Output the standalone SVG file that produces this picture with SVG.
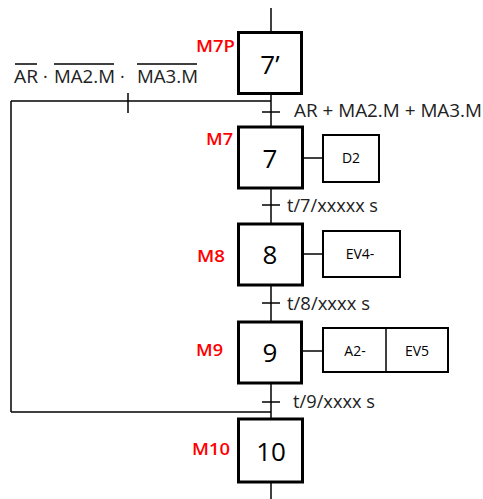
<svg xmlns="http://www.w3.org/2000/svg" width="483" height="499" viewBox="0 0 483 499">
<style>
.step{fill:#fff;stroke:#000;stroke-width:3}
.act{fill:#fff;stroke:#000;stroke-width:2}
.ln{stroke:#000;stroke-width:1.5;fill:none}
.num{font-family:"Open Sans","Liberation Sans",sans-serif;font-size:26px;fill:#000;text-anchor:middle}
.lbl{font-family:"Open Sans","Liberation Sans",sans-serif;font-size:18px;fill:#222}
.mk{font-family:"Open Sans","Liberation Sans",sans-serif;font-size:17px;fill:#ff0000;font-weight:600}
.atx{font-family:"Open Sans","Liberation Sans",sans-serif;font-size:14px;fill:#000;text-anchor:middle}
</style>
<rect width="483" height="499" fill="#fff"/>
<g id="connectors">
<line class="ln" x1="271" y1="8" x2="271" y2="32"/>
<line class="ln" x1="271" y1="93" x2="271" y2="127"/>
<line class="ln" x1="11" y1="101" x2="271" y2="101"/>
<line class="ln" x1="11" y1="101" x2="11" y2="412"/>
<line class="ln" x1="11" y1="412" x2="271" y2="412"/>
<line class="ln" x1="128" y1="93" x2="128" y2="113"/>
<line class="ln" x1="262" y1="112" x2="280" y2="112"/>
<line class="ln" x1="271" y1="188" x2="271" y2="224"/>
<line class="ln" x1="262" y1="205" x2="280" y2="205"/>
<line class="ln" x1="271" y1="285" x2="271" y2="322"/>
<line class="ln" x1="262" y1="303" x2="280" y2="303"/>
<line class="ln" x1="271" y1="383" x2="271" y2="419"/>
<line class="ln" x1="262" y1="402" x2="280" y2="402"/>
<line class="ln" x1="271" y1="482" x2="271" y2="499"/>
<line class="ln" x1="302" y1="158" x2="323" y2="158"/>
<line class="ln" x1="302" y1="254" x2="323" y2="254"/>
<line class="ln" x1="302" y1="351" x2="323" y2="351"/>
</g>
<g id="t-top">
<text class="lbl" x="15" y="83"><tspan x="14" textLength="24" lengthAdjust="spacingAndGlyphs">AR</tspan><tspan x="43">·</tspan><tspan x="54" textLength="61" lengthAdjust="spacingAndGlyphs">MA2.M</tspan><tspan x="120">·</tspan><tspan x="137" textLength="61" lengthAdjust="spacingAndGlyphs">MA3.M</tspan></text>
<line class="ln" x1="15" y1="64" x2="37" y2="64" stroke-width="1.2"/>
<line class="ln" x1="54" y1="64" x2="114" y2="64" stroke-width="1.2"/>
<line class="ln" x1="137" y1="64" x2="197" y2="64" stroke-width="1.2"/>
<text class="lbl" x="294" y="117" textLength="188" lengthAdjust="spacingAndGlyphs">AR + MA2.M + MA3.M</text>
</g>
<g id="s7p">
<rect class="step" x="238.5" y="32.5" width="63" height="61"/>
<text class="num" x="270" y="74">7’</text>
<text class="mk" x="196" y="52" textLength="39" lengthAdjust="spacingAndGlyphs">M7P</text>
</g>
<g id="s7">
<rect class="step" x="238.5" y="127" width="64" height="61"/>
<text class="num" x="270" y="168">7</text>
<text class="mk" x="206" y="145" textLength="27" lengthAdjust="spacingAndGlyphs">M7</text>
<rect class="act" x="323" y="135" width="56" height="47"/>
<text class="atx" x="351" y="163">D2</text>
</g>
<text class="lbl" x="287" y="212" textLength="91" lengthAdjust="spacingAndGlyphs">t/7/xxxxx s</text>
<g id="s8">
<rect class="step" x="238.5" y="224" width="64" height="61"/>
<text class="num" x="270" y="264">8</text>
<text class="mk" x="197" y="262" textLength="28" lengthAdjust="spacingAndGlyphs">M8</text>
<rect class="act" x="323" y="231" width="77" height="46"/>
<text class="atx" x="360" y="259">EV4-</text>
</g>
<text class="lbl" x="287" y="310" textLength="83" lengthAdjust="spacingAndGlyphs">t/8/xxxx s</text>
<g id="s9">
<rect class="step" x="238.5" y="322" width="63" height="61"/>
<text class="num" x="270" y="362">9</text>
<text class="mk" x="196" y="356" textLength="27" lengthAdjust="spacingAndGlyphs">M9</text>
<rect class="act" x="323" y="328" width="125" height="44"/>
<line class="ln" x1="386" y1="328" x2="386" y2="372" stroke-width="2"/>
<text class="atx" x="355" y="356">A2-</text>
<text class="atx" x="417" y="356">EV5</text>
</g>
<text class="lbl" x="293" y="408" textLength="82" lengthAdjust="spacingAndGlyphs">t/9/xxxx s</text>
<g id="s10">
<rect class="step" x="238.5" y="419" width="64" height="63"/>
<text class="num" x="271" y="461">10</text>
<text class="mk" x="192" y="455" textLength="38" lengthAdjust="spacingAndGlyphs">M10</text>
</g>
</svg>
